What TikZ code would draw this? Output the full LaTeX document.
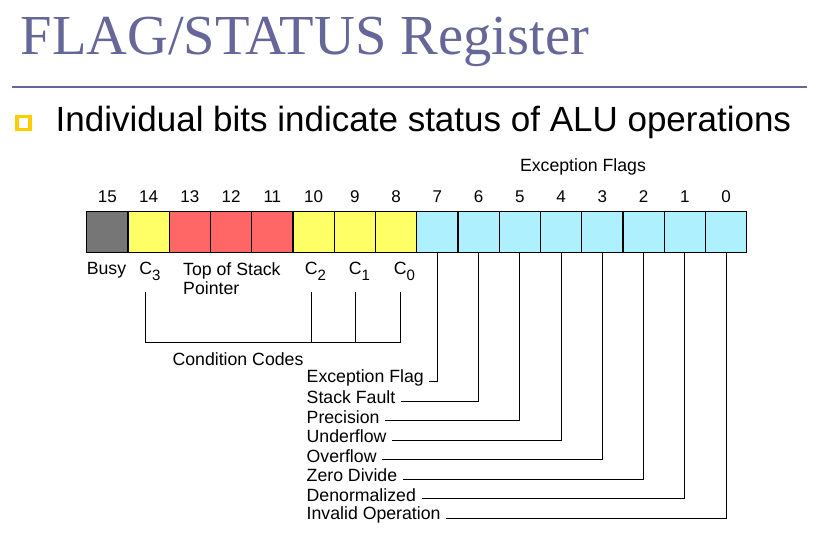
\documentclass[tikz,border=0pt]{standalone}
\usepackage{fontspec}
\setmainfont{Liberation Serif}
\newfontfamily\arialf{Liberation Sans}
\usetikzlibrary{calc}
\definecolor{titleblue}{RGB}{102,102,153}
\definecolor{bulletgold}{RGB}{255,204,0}
\definecolor{busygray}{RGB}{118,118,118}
\definecolor{ccyellow}{RGB}{255,255,102}
\definecolor{tosred}{RGB}{255,102,102}
\definecolor{exccyan}{RGB}{175,240,255}
\newcommand{\Csub}[1]{C\raisebox{-0.32em}{\fontsize{15}{15}\selectfont #1}}
\tikzset{
  cellbox/.style={draw=black, line width=1.3pt, minimum width=41.25pt, minimum height=40.6pt, inner sep=0pt, outer sep=0pt, anchor=north west},
  bitnum/.style={font=\arialf\fontsize{17}{17}\selectfont, inner sep=0pt},
  lab/.style={font=\arialf\fontsize{17.7}{19}\selectfont, inner sep=0pt},
  exlab/.style={font=\arialf\fontsize{17.7}{19}\selectfont, inner sep=0pt, anchor=west},
  wire/.style={line width=1.1pt, black}
}
\begin{document}
\begin{tikzpicture}[x=1pt,y=-1pt]
\useasboundingbox (0,0) rectangle (822,534);
% title
\node[anchor=base west, inner sep=0pt, text=titleblue, font=\fontsize{56.5}{56}\selectfont] (title) at (20.5,54.5) {FLAG/STATUS Register};
\coordinate (hrL) at (11.5,86.7);
\coordinate (hrR) at (806.5,86.7);
\draw[titleblue, line width=2pt] (hrL) -- (hrR);
% bullet
\node[draw=bulletgold, line width=3.2pt, fill=white, minimum size=13pt, inner sep=0pt] (bullet) at (23.5,123) {};
\node[anchor=base west, inner sep=0pt, font=\arialf\fontsize{35}{35}\selectfont] (subtitle) at (55.5,132) {Individual bits indicate status of ALU operations};
% register cells
\foreach \b/\col in {15/busygray,14/ccyellow,13/tosred,12/tosred,11/tosred,10/ccyellow,9/ccyellow,8/ccyellow,7/exccyan,6/exccyan,5/exccyan,4/exccyan,3/exccyan,2/exccyan,1/exccyan,0/exccyan}{
  \pgfmathsetmacro{\xl}{86.7+41.25*(15-\b)}
  \node[cellbox, fill=\col] (b\b) at (\xl,211.7) {};
  \node[bitnum] (n\b) at ($(b\b.north)+(0,-15)$) {\b};
}
\node[lab] (exflags) at (583,166.7) {Exception Flags};
% labels under cells
\node[lab] (busy) at (106.5,270) {Busy};
\node[lab] (c3) at (150,271.5) {\Csub{3}};
\node[lab, anchor=west, align=left] (tos) at (183,279) {Top of Stack\\Pointer};
\node[lab] (c2) at (315.5,271.5) {\Csub{2}};
\node[lab] (c1) at (359.5,271.5) {\Csub{1}};
\node[lab] (c0) at (404.5,271.5) {\Csub{0}};
% condition code bus
\coordinate (ccL) at (145.7,342.3);
\coordinate (ccR) at (400.7,342.3);
\draw[wire] (c3) ++(-4.3,20.2) -- (ccL) -- (ccR) -- ++(0,-50.6);
\draw[wire] (c2) ++(-3.8,20.2) -- ++(0,50.6);
\draw[wire] (c1) ++(-3.8,20.2) -- ++(0,50.6);
\node[lab] (ccodes) at (238,359.5) {Condition Codes};
% exception labels
\foreach \b/\name/\txt [count=\k from 0] in {7/ef/Exception Flag,6/sf/Stack Fault,5/pr/Precision,4/uf/Underflow,3/of/Overflow,2/zd/Zero Divide,1/dn/Denormalized,0/io/Invalid Operation}{
  \pgfmathsetmacro{\yl}{381.7+19.5*\k}
  \node[exlab] (\name) at (306.5,\yl-3.6) {\txt};
  \draw[wire] (b\b.south) |- ($(\name.east)+(5.5,3.6)$);
}
\end{tikzpicture}
\end{document}
